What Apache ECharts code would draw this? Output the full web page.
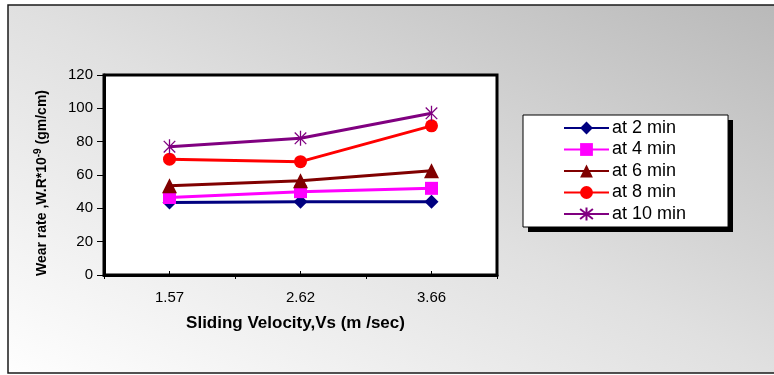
<!DOCTYPE html>
<html>
<head>
<meta charset="utf-8">
<style>
  html, body { margin: 0; padding: 0; background: #ffffff; }
  #chart { width: 774px; height: 375px; }
</style>
<script src="https://cdn.jsdelivr.net/npm/echarts@6/dist/echarts.min.js"></script>
</head>
<body>
<div id="chart"></div>
<script>
// Sliding velocity categories (m/sec)
const velocities = ['1.57', '2.62', '3.66'];

// Wear rate W.R x 10^-9 (gm/cm) for each test duration
const at2min = [43.5, 44, 44];
const at4min = [46.5, 50, 52];
const at6min = [53.5, 56.5, 62.5];
const at8min = [69.5, 68, 89.5];
const at10min = [77, 82, 97];

const seriesNames = ['at 2 min', 'at 4 min', 'at 6 min', 'at 8 min', 'at 10 min'];
const yTicks = [0, 20, 40, 60, 80, 100, 120];

const asterisk = 'path://M-1,-1L1,1M-1,1L1,-1M0,-1.3L0,1.3';
const FONT = 'Liberation Sans, Arial, sans-serif';

const chart = echarts.init(document.getElementById('chart'), null, { renderer: 'canvas' });

function lineSeries(name, data, color, symbol, size, extra) {
  return Object.assign({
    name: name,
    type: 'line',
    data: data,
    symbol: symbol,
    symbolSize: size,
    symbolKeepAspect: true,
    showAllSymbol: true,
    lineStyle: { color: color, width: 3 },
    itemStyle: { color: color },
    z: 3
  }, extra || {});
}

const option = {
  animation: false,
  textStyle: { fontFamily: FONT },
  graphic: [
    {
      // chart-area frame with its diagonal grey wash
      type: 'rect',
      z: -10,
      silent: true,
      shape: { x: 8, y: 5, width: 800, height: 368 },
      style: {
        fill: new echarts.graphic.LinearGradient(247, 488, 535, -110, [
          { offset: 0, color: '#fefefe' },
          { offset: 0.5, color: '#e0e0e0' },
          { offset: 1, color: '#b9b9b9' }
        ], true),
        stroke: '#1a1a1a',
        lineWidth: 1.5
      }
    },
    {
      // legend drop shadow
      type: 'rect',
      z: -5,
      silent: true,
      shape: { x: 528, y: 120, width: 205, height: 112 },
      style: { fill: '#000000' }
    }
  ],
  grid: {
    left: 104,
    right: 277,
    top: 75,
    bottom: 100,
    show: true,
    backgroundColor: '#ffffff',
    borderColor: '#000000',
    borderWidth: 3
  },
  legend: {
    orient: 'vertical',
    left: 523,
    top: 115,
    padding: [4, 42, 4, 40],
    itemWidth: 45,
    itemHeight: 16,
    itemGap: 3.5,
    backgroundColor: '#ffffff',
    borderColor: '#000000',
    borderWidth: 1,
    data: seriesNames,
    textStyle: { fontSize: 18, color: '#000000', fontFamily: FONT, padding: [0, 0, 0, -2] }
  },
  xAxis: [
    {
      type: 'category',
      data: velocities,
      boundaryGap: true,
      axisLine: { show: true, lineStyle: { color: '#000000', width: 3 } },
      axisTick: { show: true, inside: false, length: 4, lineStyle: { color: '#000000', width: 1 } },
      axisLabel: { fontSize: 15, color: '#000000', margin: 15 },
      name: 'Sliding Velocity,Vs (m /sec)',
      nameLocation: 'middle',
      nameGap: 40,
      nameTextStyle: { fontSize: 17, fontWeight: 'bold', color: '#000000', padding: [0, 10, 0, 0] }
    },
    {
      type: 'category',
      data: velocities,
      position: 'bottom',
      boundaryGap: true,
      axisLine: { show: false },
      axisTick: { show: true, inside: true, alignWithLabel: true, length: 4, lineStyle: { color: '#000000', width: 1 } },
      axisLabel: { show: false }
    }
  ],
  yAxis: {
    type: 'value',
    min: yTicks[0],
    max: yTicks[yTicks.length - 1],
    interval: 20,
    splitLine: { show: false },
    axisLine: { show: true, lineStyle: { color: '#000000', width: 3 } },
    axisTick: { show: true, inside: false, length: 7, lineStyle: { color: '#000000', width: 1 } },
    axisLabel: { fontSize: 15, color: '#000000', margin: 11 },
    name: 'Wear rate ,W.R*10{sup|-9} (gm/cm)',
    nameLocation: 'middle',
    nameRotate: 90,
    nameGap: 52,
    nameTextStyle: {
      fontSize: 14,
      fontWeight: 'bold',
      color: '#000000',
      padding: [0, 16, 0, 0],
      rich: {
        sup: { fontSize: 10, fontWeight: 'bold', color: '#000000', verticalAlign: 'top', padding: [0, 0, 9, 0] }
      }
    }
  },
  series: [
    lineSeries(seriesNames[0], at2min, '#000080', 'diamond', 14),
    lineSeries(seriesNames[1], at4min, '#ff00ff', 'rect', 13),
    lineSeries(seriesNames[2], at6min, '#800000', 'triangle', 15),
    lineSeries(seriesNames[3], at8min, '#ff0000', 'circle', 13),
    lineSeries(seriesNames[4], at10min, '#800080', asterisk, 15, {
      itemStyle: { color: '#800080', borderColor: '#800080', borderWidth: 1.3 }
    })
  ]
};

chart.setOption(option);
</script>
</body>
</html>
